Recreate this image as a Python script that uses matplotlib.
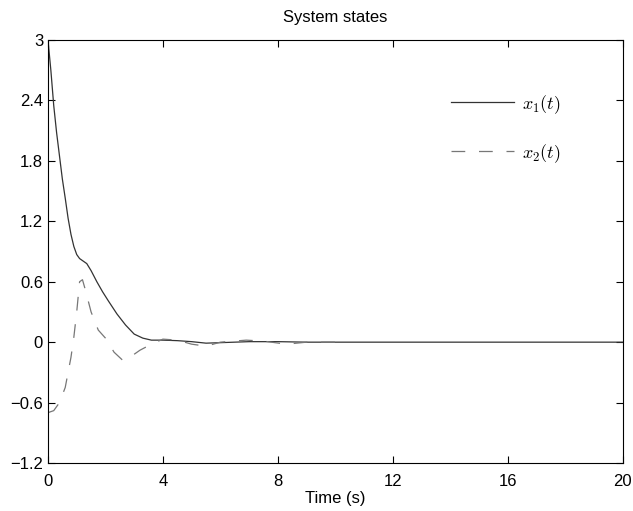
import matplotlib
matplotlib.use("Agg")
import matplotlib.pyplot as plt

plt.rcParams['font.family'] = ['Liberation Sans', 'DejaVu Sans']
plt.rcParams['mathtext.fontset'] = 'cm'

# x1(t)
t1 = [0, 0.1, 0.2, 0.3, 0.4, 0.5, 0.6, 0.7, 0.8, 0.9, 1.0, 1.1, 1.2, 1.35,
      1.5, 1.7, 1.9, 2.1, 2.4, 2.7, 3.0, 3.3, 3.6, 4.0, 4.5, 5.0, 5.5, 6.0,
      7.0, 8.0, 9.0, 10, 12, 14, 16, 18, 20]
x1 = [3.0, 2.7, 2.35, 2.08, 1.85, 1.62, 1.43, 1.23, 1.07, 0.95, 0.87, 0.83,
      0.81, 0.78, 0.71, 0.60, 0.50, 0.41, 0.28, 0.17, 0.08, 0.04, 0.02, 0.02,
      0.015, 0.005, -0.01, -0.005, 0.005, 0.005, 0, 0, 0, 0, 0, 0, 0]

# x2(t)
t2 = [0, 0.2, 0.4, 0.6, 0.8, 0.9, 1.0, 1.1, 1.2, 1.3, 1.5, 1.75, 2.0, 2.3,
      2.6, 2.8, 3.2, 3.6, 4.0, 4.5, 5.0, 5.5, 6.0, 6.9, 7.5, 8.3, 9.0, 10]
x2 = [-0.70, -0.68, -0.60, -0.45, -0.15, 0.05, 0.30, 0.60, 0.62, 0.52, 0.30,
      0.12, 0.04, -0.10, -0.18, -0.16, -0.08, -0.02, 0.03, 0.02, -0.02, -0.04,
      0.0, 0.02, 0.01, -0.02, 0.0, 0.0]

xticks = [0, 4, 8, 12, 16, 20]
yticks = [-1.2, -0.6, 0, 0.6, 1.2, 1.8, 2.4, 3]

fig = plt.figure(figsize=(6.33, 5.11), dpi=100)
ax = fig.add_axes([0.0758, 0.0939, 0.908, 0.8278])

ax.plot(t1, x1, color='#333333', lw=0.9, label='$x_1(t)$')
ax.plot(t2, x2, color='#777777', lw=0.9, ls=(0, (11, 11)), label='$x_2(t)$')

ax.set_xlim(0, 20)
ax.set_ylim(-1.2, 3)
ax.set_xticks(xticks)
ax.set_yticks(yticks)
ax.set_yticklabels(['\u22121.2', '\u22120.6', '0', '0.6', '1.2', '1.8', '2.4', '3'])
ax.tick_params(direction='in', top=True, right=True, labelsize=12, length=5)
ax.tick_params(axis='x', pad=8)

ax.set_title('System states', fontsize=12, pad=13)
ax.set_xlabel('Time (s)', fontsize=12, labelpad=1)

ax.legend(frameon=False, loc='upper right', bbox_to_anchor=(0.892, 0.875),
          borderpad=0, borderaxespad=0, handlelength=3.5, handletextpad=0.45,
          labelspacing=1.45, fontsize=13)

fig.savefig('out.png', dpi=100)
